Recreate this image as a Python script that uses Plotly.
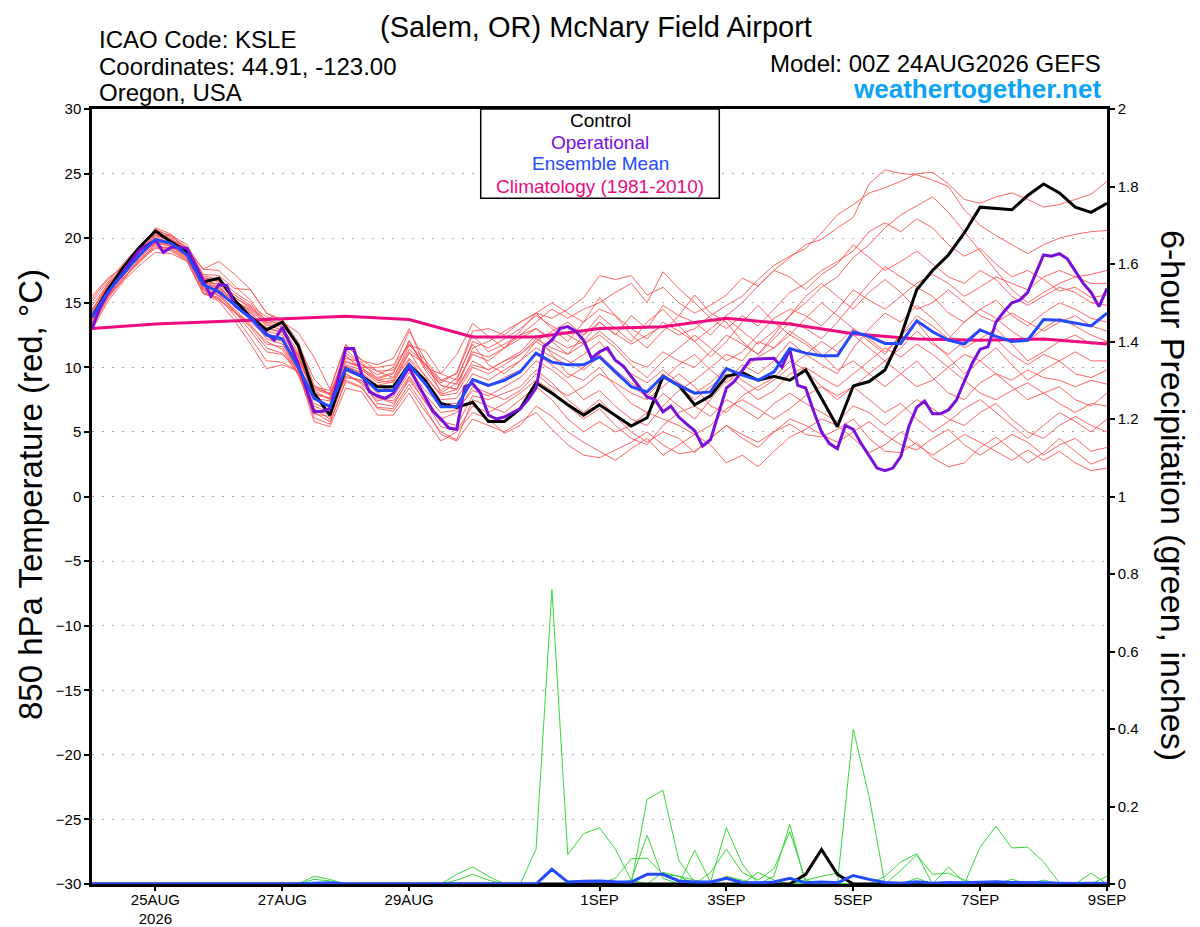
import pandas as pd
import plotly.graph_objects as go

# ---------------- time axes ----------------
times = pd.date_range("2026-08-24 00:00", "2026-09-09 00:00", freq="6h")      # 65 steps
op_times = pd.date_range("2026-08-24 00:00", "2026-09-09 00:00", freq="3h")   # 129 steps
clim_times = pd.date_range("2026-08-24 00:00", "2026-09-09 00:00", freq="1D") # 17 steps

tick_dates = ["2026-08-25", "2026-08-27", "2026-08-29", "2026-09-01",
              "2026-09-03", "2026-09-05", "2026-09-07", "2026-09-09"]
tick_labels = ["25AUG<br>2026", "27AUG", "29AUG", "1SEP", "3SEP", "5SEP", "7SEP", "9SEP"]

temp_ticks = [-30, -25, -20, -15, -10, -5, 0, 5, 10, 15, 20, 25, 30]
precip_ticks = [0, 0.2, 0.4, 0.6, 0.8, 1.0, 1.2, 1.4, 1.6, 1.8, 2.0]
precip_tick_labels = ["0", "0.2", "0.4", "0.6", "0.8", "1", "1.2", "1.4", "1.6", "1.8", "2"]

# ---------------- 850 hPa temperature (deg C) ----------------
control_temp = [13.9, 16.0, 17.8, 19.3, 20.55, 19.7, 18.95, 16.6, 16.9, 15.2,
                13.9, 12.9, 13.5, 11.7, 8.0, 6.3, 9.9, 9.3, 8.5, 8.5,
                10.2, 9.0, 7.2, 6.9, 7.3, 5.8, 5.8, 6.8, 8.8, 8.0,
                7.1, 6.3, 7.1, 6.3, 5.45, 6.1, 9.3, 8.6, 7.1, 7.8,
                9.3, 9.6, 9.0, 9.3, 9.0, 9.8, 7.6, 5.4, 8.55, 8.9,
                9.8, 12.4, 16.0, 17.5, 18.7, 20.4, 22.4, 22.3, 22.2, 23.3,
                24.2, 23.5, 22.4, 22.0, 22.7]

mean_temp = [13.9, 15.85, 17.3, 18.7, 19.9, 19.6, 18.7, 16.4, 15.85, 14.8,
             13.8, 12.5, 12.2, 10.0, 7.6, 6.95, 9.9, 9.3, 8.2, 8.2,
             10.2, 8.75, 6.95, 6.95, 9.05, 8.6, 9.0, 9.65, 11.1, 10.4,
             10.2, 10.2, 10.8, 9.65, 8.5, 8.1, 9.3, 8.6, 8.0, 8.1,
             9.9, 9.4, 9.0, 9.65, 11.45, 11.1, 10.9, 10.9, 12.75, 12.4,
             11.85, 11.85, 13.6, 12.75, 12.1, 11.8, 12.9, 12.4, 12.0, 12.1,
             13.7, 13.65, 13.4, 13.2, 14.2]

oper_temp = [13.0, 14.6, 15.75, 16.6, 17.5, 18.3, 19.1, 19.5, 19.85, 18.9,
             19.3, 19.3, 19.2, 18.0, 16.75, 15.5, 16.4, 16.35, 14.8, 14.3,
             13.9, 13.2, 12.6, 12.1, 13.1, 11.8, 10.3, 8.4, 6.55, 6.6,
             6.8, 9.0, 11.45, 11.45, 9.5, 8.1, 7.8, 7.6, 8.0, 9.0,
             10.0, 8.8, 7.7, 6.6, 6.0, 5.3, 5.2, 8.5, 8.75, 8.0,
             6.3, 6.0, 6.15, 6.5, 6.8, 7.5, 8.4, 11.6, 12.1, 13.0,
             13.15, 12.8, 12.1, 10.7, 11.2, 11.5, 10.55, 10.1, 9.3, 8.5,
             7.7, 7.5, 6.55, 7.0, 6.15, 5.6, 5.1, 3.9, 4.4, 6.4,
             8.4, 8.9, 9.8, 10.6, 10.65, 10.7, 10.7, 10.0, 11.4, 8.6,
             8.4, 6.6, 5.0, 4.1, 3.7, 5.5, 5.2, 4.1, 3.1, 2.2,
             2.0, 2.2, 3.1, 5.4, 6.9, 7.4, 6.4, 6.4, 6.7, 7.45,
             8.9, 10.3, 11.4, 11.6, 13.5, 14.3, 15.0, 15.2, 15.8, 17.3,
             18.7, 18.6, 18.8, 18.4, 17.4, 16.5, 15.8, 14.7, 16.1]

clim_temp = [13.0, 13.35, 13.55, 13.75, 13.95, 13.7, 12.35, 12.35, 13.0,
             13.15, 13.8, 13.35, 12.6, 12.2, 12.1, 12.2, 11.8]

# ensemble members (6-hourly)
m01 = [14.4, 16.5, 17.7, 19.2, 20.7, 20.1, 19.3, 17.6, 18.2, 17.2, 16.0, 14.2, 13.7, 12.0, 8.6, 7.9, 10.9, 9.9, 9.2, 9.6, 12.0, 10.0, 8.6, 8.3,
       11.5, 12.0, 12.8, 13.5, 14.2, 13.8, 14.5, 15.4, 17.1, 16.8, 17.1, 15.6, 16.2, 15.0, 14.2, 14.8, 15.6, 16.9, 16.3, 17.5,
       18.5, 19.5, 19.9, 20.8, 21.6, 24.2, 25.3, 25.0, 24.9, 24.5, 24.0, 22.2, 21.0, 20.2, 19.5, 18.8, 19.5, 20.0, 20.3, 20.5, 20.6]
m02 = [15.3, 16.8, 17.9, 19.0, 20.8, 20.3, 19.0, 16.9, 16.7, 15.4, 14.7, 13.4, 12.8, 10.9, 7.9, 7.6, 11.4, 10.2, 9.4, 10.0, 12.8, 10.6, 9.0, 9.5,
       12.5, 11.2, 11.8, 12.5, 13.0, 12.2, 11.5, 12.0, 13.5, 12.6, 11.8, 12.5, 13.2, 12.5, 13.0, 14.0, 14.8, 15.5, 16.8, 17.9,
       18.6, 19.2, 20.4, 21.8, 22.6, 23.5, 23.9, 24.4, 25.0, 25.1, 24.2, 23.0, 22.7, 23.2, 23.5, 23.0, 22.4, 22.6, 23.0, 23.4, 24.4]
m03 = [13.3, 15.6, 16.8, 18.3, 19.2, 19.1, 18.3, 15.8, 15.4, 14.0, 12.3, 10.5, 10.4, 9.7, 6.1, 5.6, 9.0, 8.5, 6.9, 6.8, 8.7, 6.9, 4.8, 4.3,
       6.0, 5.5, 5.0, 5.8, 6.5, 5.2, 4.0, 3.2, 3.0, 3.6, 4.2, 5.0, 4.0, 3.3, 3.5, 4.5, 5.5, 4.8, 4.2, 5.0,
       5.6, 4.8, 4.6, 5.2, 6.0, 4.5, 3.5, 3.4, 4.2, 3.0, 2.3, 2.6, 3.8, 4.6, 3.6, 2.6, 3.4, 4.5, 3.5, 2.5, 3.0]
m04 = [14.1, 16.3, 17.4, 18.9, 20.4, 19.9, 19.3, 17.2, 17.1, 16.1, 16.0, 14.2, 13.5, 12.7, 10.8, 8.3, 11.8, 10.5, 10.2, 10.7, 13.0, 10.0, 9.5, 11.0,
       13.4, 12.4, 11.5, 12.8, 14.2, 13.0, 12.0, 13.5, 15.4, 14.0, 12.5, 11.5, 12.8, 14.0, 15.6, 14.2, 13.5, 12.0, 11.0, 12.5,
       14.0, 15.0, 16.2, 17.0, 18.5, 19.5, 20.8, 21.8, 22.5, 23.2, 22.0, 20.5, 19.0, 17.5, 16.0, 15.0, 15.8, 16.5, 17.0, 17.2, 17.5]
m05 = [13.6, 15.9, 17.5, 18.6, 19.7, 19.6, 18.9, 16.3, 16.3, 15.0, 14.2, 13.0, 12.7, 11.0, 7.6, 7.4, 10.2, 9.8, 9.0, 8.8, 11.1, 10.3, 8.6, 8.3,
       10.5, 9.8, 10.5, 11.2, 12.5, 11.0, 9.5, 9.0, 10.0, 8.5, 7.2, 6.5, 8.0, 7.0, 6.0, 7.5, 9.0, 10.2, 9.5, 10.5,
       12.0, 11.0, 10.2, 9.5, 11.5, 13.0, 14.2, 13.5, 14.8, 13.8, 12.5, 11.5, 12.2, 13.0, 11.8, 10.5, 11.2, 12.0, 12.5, 11.8, 12.0]
m06 = [13.1, 15.3, 16.9, 18.4, 19.3, 19.3, 18.6, 16.5, 16.5, 15.2, 13.9, 12.2, 11.8, 9.8, 6.8, 6.0, 9.5, 8.7, 7.4, 7.7, 9.6, 7.9, 6.5, 6.7,
       8.2, 7.8, 8.5, 9.2, 10.5, 9.8, 8.8, 7.5, 8.2, 7.0, 6.0, 5.5, 7.0, 8.2, 9.0, 10.0, 11.0, 10.5, 12.0, 11.5,
       12.8, 12.0, 11.0, 9.8, 10.5, 9.5, 8.5, 9.5, 10.5, 9.2, 8.0, 7.5, 8.8, 9.5, 8.5, 7.5, 8.0, 8.5, 7.5, 7.0, 8.0]
m07 = [14.8, 16.4, 17.6, 19.3, 20.5, 20.0, 19.0, 16.7, 16.1, 15.1, 14.5, 13.5, 13.5, 11.5, 8.2, 7.5, 10.4, 10.0, 10.0, 10.2, 11.7, 10.6, 8.0, 8.8,
       11.0, 10.5, 11.5, 12.5, 13.5, 14.5, 13.8, 14.5, 15.0, 15.8, 16.5, 15.0, 17.4, 16.1, 15.0, 13.8, 13.0, 14.0, 13.2, 14.5,
       15.8, 16.5, 17.5, 18.2, 19.0, 20.5, 21.2, 20.5, 21.5, 20.8, 19.5, 18.6, 19.2, 18.0, 17.0, 17.5, 16.8, 15.9, 16.2, 15.4, 15.6]
m08 = [14.0, 16.1, 17.1, 18.7, 19.6, 19.4, 18.7, 16.0, 15.6, 14.3, 13.1, 11.5, 11.1, 9.5, 6.4, 6.2, 9.3, 9.0, 7.7, 7.2, 9.0, 7.4, 5.4, 5.1,
       7.0, 6.5, 7.2, 8.0, 9.0, 8.2, 7.0, 6.0, 6.8, 5.5, 4.5, 4.0, 5.5, 6.5, 7.0, 6.2, 7.5, 6.8, 6.0, 7.2,
       8.0, 7.2, 6.5, 5.8, 7.0, 6.5, 5.5, 6.5, 7.5, 6.8, 6.0, 5.5, 6.5, 7.2, 6.0, 5.0, 4.5, 5.5, 6.2, 5.5, 5.0]
m09 = [15.5, 16.9, 17.8, 18.9, 20.3, 19.8, 19.2, 17.6, 17.5, 16.3, 15.2, 13.5, 13.1, 11.2, 8.5, 8.2, 11.7, 10.6, 9.7, 9.2, 11.7, 11.3, 9.5, 9.0,
       12.0, 11.5, 12.2, 13.0, 14.0, 13.2, 12.5, 11.8, 12.8, 11.8, 10.5, 10.0, 11.2, 10.5, 10.0, 11.2, 12.5, 11.8, 11.0, 12.2,
       13.5, 13.0, 12.2, 13.5, 15.0, 16.5, 17.8, 17.0, 16.2, 15.5, 14.2, 13.5, 14.5, 15.2, 14.0, 13.2, 14.2, 15.0, 14.5, 13.8, 13.5]
m10 = [12.9, 15.1, 16.7, 17.9, 18.9, 18.8, 18.2, 15.8, 15.1, 13.6, 11.8, 9.9, 10.2, 9.7, 5.8, 5.4, 8.4, 8.1, 6.3, 6.3, 8.0, 6.0, 4.3, 5.0,
       6.5, 6.0, 4.9, 5.5, 7.0, 6.2, 5.0, 4.2, 3.5, 2.8, 3.7, 4.5, 3.2, 4.0, 4.8, 4.0, 2.6, 3.2, 2.3, 3.5,
       4.6, 5.2, 6.0, 5.5, 4.5, 3.4, 4.0, 5.0, 4.0, 3.2, 4.0, 4.8, 4.2, 3.5, 2.8, 3.6, 2.8, 3.5, 2.6, 2.0, 2.2]
m11 = [14.5, 16.2, 17.5, 19.1, 20.2, 19.8, 19.1, 16.9, 16.2, 15.2, 14.3, 12.8, 12.5, 10.6, 8.0, 7.6, 10.7, 10.4, 9.1, 9.5, 12.1, 9.8, 8.2, 9.2,
       11.8, 10.2, 9.5, 10.5, 12.0, 12.8, 13.5, 12.5, 14.0, 13.0, 12.0, 13.5, 14.5, 13.2, 12.0, 10.8, 12.0, 13.5, 14.8, 13.5,
       12.5, 13.8, 15.0, 14.0, 13.0, 12.0, 11.0, 12.5, 13.5, 12.0, 10.8, 9.5, 10.5, 11.5, 10.2, 9.0, 9.8, 10.5, 11.2, 10.5, 10.5]
m12 = [13.5, 15.4, 17.0, 18.1, 19.4, 19.2, 18.4, 16.2, 15.5, 14.5, 13.3, 11.8, 11.6, 9.6, 7.0, 6.5, 9.5, 8.8, 7.6, 7.4, 9.3, 7.6, 6.0, 6.5,
       8.5, 8.0, 7.5, 8.2, 9.5, 8.5, 7.8, 8.5, 9.5, 8.8, 8.0, 7.5, 8.5, 9.5, 8.5, 7.0, 6.5, 7.8, 8.5, 9.2,
       10.5, 9.8, 8.5, 7.5, 8.5, 9.5, 10.5, 9.5, 8.5, 9.0, 10.0, 9.0, 8.0, 7.5, 8.2, 8.8, 8.0, 7.2, 6.5, 7.2, 7.0]
m13 = [14.2, 16.0, 17.3, 18.5, 20.0, 19.7, 18.6, 16.6, 16.0, 15.1, 14.4, 13.3, 12.9, 11.0, 8.4, 8.0, 10.5, 10.0, 9.0, 9.2, 11.4, 10.3, 8.8, 9.6,
       12.8, 13.0, 12.5, 13.5, 14.2, 15.0, 14.2, 13.5, 14.5, 14.0, 13.0, 12.2, 13.5, 12.8, 12.0, 13.0, 14.0, 15.0, 16.3, 17.5,
       17.0, 16.0, 17.2, 18.0, 19.5, 18.5, 17.5, 18.2, 19.0, 18.0, 17.0, 16.5, 17.5, 16.8, 15.5, 14.8, 15.5, 16.2, 15.8, 15.0, 14.8]
m14 = [13.7, 15.5, 16.8, 18.5, 19.5, 19.0, 18.2, 15.7, 15.3, 14.3, 12.8, 11.2, 11.0, 9.9, 6.5, 5.8, 8.9, 8.4, 6.8, 6.6, 8.4, 6.6, 5.0, 4.4,
       7.5, 7.0, 6.5, 7.5, 8.5, 7.5, 6.0, 5.0, 5.8, 5.0, 5.5, 6.5, 6.0, 5.5, 4.8, 5.5, 6.8, 7.5, 6.8, 6.0,
       6.8, 7.8, 8.5, 7.8, 8.5, 7.5, 6.5, 7.2, 6.0, 5.0, 5.8, 6.8, 7.5, 6.5, 5.5, 4.5, 5.5, 6.5, 5.8, 5.0, 6.0]
m15 = [13.9, 16.1, 17.6, 18.9, 20.1, 19.9, 18.9, 16.8, 16.4, 15.4, 14.6, 13.7, 13.2, 11.8, 9.1, 7.8, 10.9, 9.8, 8.8, 9.0, 11.2, 9.3, 7.8, 8.0,
       10.0, 9.5, 10.2, 11.0, 12.2, 11.5, 11.0, 11.8, 12.5, 11.5, 10.2, 9.2, 10.5, 11.5, 12.5, 11.5, 10.5, 11.2, 12.5, 13.8,
       14.5, 14.0, 13.2, 14.5, 16.0, 15.2, 14.5, 15.5, 16.5, 17.2, 16.5, 15.5, 16.2, 17.0, 16.5, 16.0, 17.0, 17.5, 17.0, 16.5, 16.5]
m16 = [13.4, 15.7, 17.2, 18.2, 19.6, 19.4, 18.4, 16.1, 15.7, 14.4, 13.2, 12.0, 11.4, 9.4, 6.7, 6.4, 9.2, 9.0, 7.2, 7.0, 9.2, 7.3, 5.8, 5.5,
       7.8, 7.5, 8.0, 8.5, 9.8, 8.8, 7.5, 6.5, 7.5, 6.2, 5.0, 4.2, 5.0, 4.5, 3.4, 4.5, 5.5, 4.5, 3.8, 5.0,
       6.0, 5.5, 4.8, 4.2, 5.0, 5.8, 4.8, 4.0, 3.6, 4.5, 5.2, 4.0, 3.2, 4.0, 4.8, 4.2, 3.2, 4.0, 4.5, 3.5, 3.8]
m17 = [15.1, 16.6, 18.1, 19.4, 20.6, 20.2, 19.5, 17.1, 16.8, 15.8, 15.0, 13.1, 12.7, 10.8, 8.0, 6.8, 10.1, 9.5, 8.5, 8.2, 10.6, 9.0, 7.5, 7.6,
       9.5, 9.0, 9.8, 10.5, 11.5, 10.8, 10.2, 11.0, 12.0, 10.5, 9.5, 8.8, 9.8, 8.8, 8.0, 8.8, 10.0, 9.0, 8.2, 9.0,
       10.0, 11.0, 12.0, 11.2, 12.5, 11.5, 10.5, 11.5, 12.8, 11.8, 11.0, 12.0, 13.0, 12.2, 11.0, 10.2, 11.0, 10.5, 9.5, 9.2, 9.8]
m18 = [13.2, 15.5, 17.1, 18.6, 19.7, 19.5, 18.5, 16.0, 15.2, 14.2, 13.5, 12.4, 12.0, 9.5, 7.2, 6.7, 9.7, 9.3, 8.0, 8.5, 9.9, 8.2, 7.2, 7.2,
       9.0, 8.5, 9.2, 9.8, 11.0, 10.2, 9.2, 10.0, 11.0, 9.8, 8.8, 8.0, 9.5, 8.5, 7.5, 8.5, 9.5, 8.5, 7.5, 8.2,
       9.5, 10.0, 9.2, 8.5, 9.5, 10.5, 11.5, 10.8, 11.8, 11.0, 10.0, 11.0, 10.5, 9.5, 9.0, 9.8, 9.2, 9.0, 8.5, 9.0, 8.7]
m19 = [14.3, 16.4, 17.9, 19.1, 20.2, 20.2, 19.1, 17.0, 16.6, 15.6, 14.8, 13.9, 13.7, 11.6, 8.3, 7.9, 11.1, 10.2, 9.7, 9.8, 11.8, 10.2, 9.0, 8.7,
       11.2, 10.8, 11.5, 12.2, 13.0, 12.0, 11.0, 12.5, 13.5, 12.5, 14.0, 13.0, 14.8, 14.0, 13.5, 12.5, 13.8, 12.8, 11.8, 12.8,
       14.0, 15.5, 16.5, 15.5, 14.5, 15.8, 16.8, 15.8, 14.5, 15.0, 16.0, 15.0, 14.0, 13.5, 14.2, 13.5, 12.8, 13.5, 14.0, 13.2, 12.8]
m20 = [13.8, 16.0, 17.2, 18.8, 19.9, 19.5, 18.8, 16.4, 15.8, 14.9, 14.0, 12.5, 12.3, 10.3, 7.7, 7.0, 10.1, 9.6, 8.6, 8.9, 10.7, 9.4, 7.9, 8.3,
       10.2, 9.8, 10.5, 11.0, 12.0, 11.2, 10.5, 9.8, 10.8, 9.5, 8.5, 7.8, 9.0, 10.2, 11.0, 9.8, 8.8, 9.8, 10.8, 11.5,
       12.5, 11.8, 10.8, 11.8, 13.0, 12.2, 11.2, 12.5, 14.0, 13.2, 12.2, 13.5, 14.5, 13.8, 12.8, 12.0, 13.0, 13.8, 13.2, 12.5, 12.0]
members_temp = [m01, m02, m03, m04, m05, m06, m07, m08, m09, m10,
                m11, m12, m13, m14, m15, m16, m17, m18, m19, m20]

# ---------------- 6-hour precipitation (inches), sparse: step index -> value ----------------
p01 = {28: 0.09, 29: 0.76, 30: 0.076, 31: 0.13, 32: 0.145, 33: 0.09, 34: 0.01}
p02 = {34: 0.0, 35: 0.218, 36: 0.242, 37: 0.061, 38: 0.005}
p03 = {34: 0.01, 35: 0.126, 36: 0.015}
p04 = {32: 0.0, 33: 0.015, 34: 0.065, 35: 0.067, 36: 0.025, 37: 0.02, 38: 0.01}
p05 = {37: 0.0, 38: 0.087, 39: 0.005, 40: 0.145, 41: 0.052, 42: 0.0, 43: 0.02, 44: 0.154, 45: 0.0}
p06 = {38: 0.0, 39: 0.03, 40: 0.09, 41: 0.03, 42: 0.01, 43: 0.04, 44: 0.135, 45: 0.01}
p07 = {47: 0.0, 48: 0.40, 49: 0.225, 50: 0.0}
p08 = {45: 0.01, 46: 0.02, 47: 0.028, 48: 0.0, 49: 0.0, 50: 0.02, 51: 0.057, 52: 0.078, 53: 0.0, 54: 0.044, 55: 0.005}
p09 = {55: 0.0, 56: 0.095, 57: 0.149, 58: 0.093, 59: 0.095, 60: 0.057, 61: 0.003, 62: 0.0, 63: 0.028, 64: 0.0}
p10 = {50: 0.0, 51: 0.035, 52: 0.075, 53: 0.025, 54: 0.028, 55: 0.01}
p11 = {13: 0.0, 14: 0.02, 15: 0.012, 16: 0.0, 22: 0.0, 23: 0.025, 24: 0.044, 25: 0.02, 26: 0.0}
p12 = {14: 0.012, 15: 0.008, 23: 0.01, 24: 0.025, 25: 0.01, 35: 0.0, 36: 0.03, 37: 0.02, 38: 0.0}
p13 = {39: 0.0, 40: 0.02, 41: 0.01, 51: 0.0, 52: 0.015, 53: 0.0, 58: 0.012, 60: 0.01, 63: 0.0, 64: 0.02}
p14 = {41: 0.0, 42: 0.03, 43: 0.01, 44: 0.0}
members_precip = [p01, p02, p03, p04, p05, p06, p07, p08, p09, p10, p11, p12, p13, p14]

control_precip = {44: 0.0, 45: 0.025, 46: 0.089, 47: 0.025, 48: 0.0}
mean_precip = {14: 0.002, 15: 0.003, 28: 0.0, 29: 0.038, 30: 0.005, 31: 0.007, 32: 0.008, 33: 0.006,
               34: 0.005, 35: 0.025, 36: 0.025, 37: 0.008, 38: 0.005, 39: 0.005, 40: 0.015, 41: 0.004,
               42: 0.003, 43: 0.005, 44: 0.015, 45: 0.003, 46: 0.005, 47: 0.003, 48: 0.022, 49: 0.012,
               50: 0.004, 51: 0.002, 52: 0.006, 53: 0.002, 54: 0.004, 55: 0.003, 56: 0.004, 57: 0.006,
               58: 0.004, 59: 0.004, 60: 0.003, 61: 0.002, 62: 0.001, 63: 0.002, 64: 0.001}


def full_series(sparse):
    return [sparse.get(i, 0.0) for i in range(len(times))]


# ---------------- styling ----------------
FONT = "Liberation Sans"
RED = "rgb(255,82,82)"
GREEN = "rgb(55,215,55)"
BLUE = "#2449ff"
PURPLE = "#7a0fdc"
PINK = "#ee0a80"
SKY = "#0ca2f5"

# the page body has an 8px margin, so the figure is placed at (8, 8) in the window
OFF = 8
WIN_W, WIN_H = 1200, 927
FIG_W, FIG_H = WIN_W - OFF, WIN_H - OFF
# plot area wanted, in window pixels
L, R, T, B = 92, 1107, 109, 884


def px(xp):
    return (xp - L) / (R - L)


def py(yp):
    return (B - yp) / (B - T)


fig = go.Figure()

for p in members_precip:
    fig.add_trace(go.Scatter(x=times, y=full_series(p), yaxis="y2", mode="lines",
                             line=dict(color=GREEN, width=1), hoverinfo="skip", showlegend=False))

for m in members_temp:
    fig.add_trace(go.Scatter(x=times, y=m, mode="lines",
                             line=dict(color=RED, width=0.9), hoverinfo="skip", showlegend=False))

fig.add_trace(go.Scatter(x=clim_times, y=clim_temp, mode="lines",
                         line=dict(color=PINK, width=3), hoverinfo="skip", showlegend=False))

fig.add_trace(go.Scatter(x=times, y=full_series(control_precip), yaxis="y2", mode="lines",
                         line=dict(color="black", width=3), hoverinfo="skip", showlegend=False))
fig.add_trace(go.Scatter(x=times, y=full_series(mean_precip), yaxis="y2", mode="lines",
                         line=dict(color=BLUE, width=3), hoverinfo="skip", showlegend=False))

fig.add_trace(go.Scatter(x=times, y=control_temp, mode="lines",
                         line=dict(color="black", width=3), hoverinfo="skip", showlegend=False))
fig.add_trace(go.Scatter(x=op_times, y=oper_temp, mode="lines",
                         line=dict(color=PURPLE, width=3), hoverinfo="skip", showlegend=False))
fig.add_trace(go.Scatter(x=times, y=mean_temp, mode="lines",
                         line=dict(color=BLUE, width=3), hoverinfo="skip", showlegend=False))

axis_font = dict(family=FONT, size=15, color="black")

fig.update_layout(
    width=FIG_W, height=FIG_H,
    margin=dict(l=L - OFF, r=FIG_W - (R - OFF), t=T - OFF, b=FIG_H - (B - OFF), autoexpand=False),
    paper_bgcolor="white", plot_bgcolor="white",
    font=dict(family=FONT, color="black"),
    showlegend=False,
    xaxis=dict(type="date", range=[times[0], times[-1]], automargin=False,
               tickmode="array", tickvals=tick_dates, ticktext=tick_labels,
               ticks="outside", ticklen=4, tickwidth=1.5, tickcolor="black",
               ticklabelstandoff=-4,
               showline=True, linecolor="black", linewidth=2.5, mirror=True,
               showgrid=False, zeroline=False, tickfont=axis_font),
    yaxis=dict(range=[-30, 30], tickmode="array", tickvals=temp_ticks, automargin=False,
               ticks="outside", ticklen=5, tickwidth=1.5, tickcolor="black",
               showline=True, linecolor="black", linewidth=2.5, mirror=True,
               showgrid=True, gridcolor="#a8a8a8", gridwidth=1.2, griddash="2px,8px",
               zeroline=False, tickfont=axis_font),
    yaxis2=dict(range=[0, 2], overlaying="y", side="right", tickmode="array", automargin=False,
                tickvals=precip_ticks, ticktext=precip_tick_labels,
                ticks="outside", ticklen=5, tickwidth=1.5, tickcolor="black",
                showline=True, linecolor="black", linewidth=2.5,
                showgrid=False, zeroline=False, tickfont=axis_font),
)

# legend box
fig.add_shape(type="rect", xref="paper", yref="paper",
              x0=px(480.7), x1=px(719.3), y0=py(198.3), y1=py(T),
              line=dict(color="black", width=1.5), fillcolor="white", layer="above")

legend_items = [("Control", "black", 120.7), ("Operational", PURPLE, 142.3),
                ("Ensemble Mean", BLUE, 164.0), ("Climatology (1981-2010)", PINK, 186.0)]
for text, col, yp in legend_items:
    fig.add_annotation(text=text, xref="paper", yref="paper", x=px(600), y=py(yp),
                       xanchor="center", yanchor="middle", showarrow=False,
                       font=dict(family=FONT, size=19, color=col))

# header texts
fig.add_annotation(text="(Salem, OR) McNary Field Airport", xref="paper", yref="paper",
                   x=px(596), y=py(OFF + 1), xanchor="center", yanchor="top", showarrow=False,
                   font=dict(family=FONT, size=29, color="black"))
for text, yp in [("ICAO Code: KSLE", 39), ("Coordinates: 44.91, -123.00", 66), ("Oregon, USA", 93)]:
    fig.add_annotation(text=text, xref="paper", yref="paper", x=px(97), y=py(yp),
                       xanchor="left", yanchor="middle", showarrow=False,
                       font=dict(family=FONT, size=24, color="black"))
fig.add_annotation(text="Model: 00Z 24AUG2026 GEFS", xref="paper", yref="paper",
                   x=px(1103), y=py(63.5), xanchor="right", yanchor="middle", showarrow=False,
                   font=dict(family=FONT, size=24, color="black"))
fig.add_annotation(text="<b>weathertogether.net</b>", xref="paper", yref="paper",
                   x=px(1103), y=py(89), xanchor="right", yanchor="middle", showarrow=False,
                   font=dict(family=FONT, size=26, color=SKY))

# axis titles
fig.add_annotation(text="850 hPa Temperature (red, °C)", xref="paper", yref="paper",
                   x=px(30), y=py(495), xanchor="center", yanchor="middle", textangle=-90,
                   showarrow=False, font=dict(family=FONT, size=33, color="black"))
fig.add_annotation(text="6-hour Precipitation (green, inches)", xref="paper", yref="paper",
                   x=px(1173), y=py(495), xanchor="center", yanchor="middle", textangle=90,
                   showarrow=False, font=dict(family=FONT, size=34, color="black"))

fig.write_html("out.html")
